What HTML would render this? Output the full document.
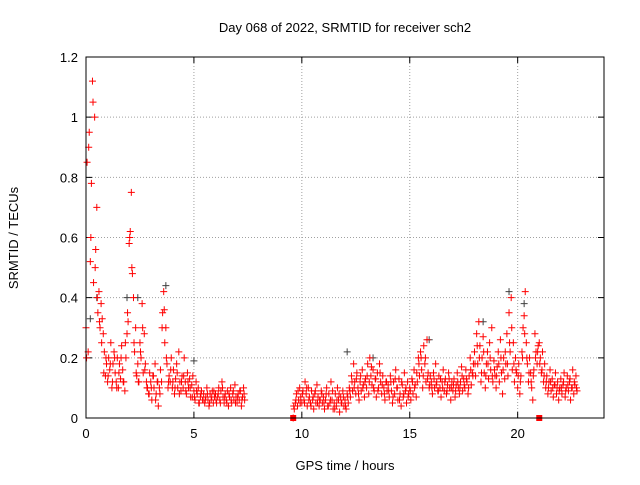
<!DOCTYPE html>
<html><head><meta charset="utf-8">
<style>
body{margin:0;background:#fff;}
svg text{font-family:"Liberation Sans",sans-serif;font-size:13px;fill:#000;}
</style></head>
<body>
<svg id="chart" width="640" height="480">
<text x="345" y="32" text-anchor="middle">Day 068 of 2022, SRMTID for receiver sch2</text>
<text x="345" y="470" text-anchor="middle">GPS time / hours</text>
<text transform="translate(18,238) rotate(-90)" text-anchor="middle">SRMTID / TECUs</text>
<g id="grid"></g><g id="ticks"></g><g id="marks"></g>
<rect x="86" y="57" width="518" height="361" fill="none" stroke="#000" stroke-width="1"/>
</svg>
<script>
const xTicks=[0,5,10,15,20];
const yTicks=[0,0.2,0.4,0.6,0.8,1,1.2];
const yTickLabels=["0","0.2","0.4","0.6","0.8","1","1.2"];
const startA=0, stepA=0.05;
const valsA=[0.30,0.85,0.22,0.95,0.52,0.78,1.12,0.45,1.0,0.56,
0.70,0.35,0.42,0.30,0.38,0.33,0.28,0.22,0.14,0.18,
0.12,0.20,0.16,0.25,0.10,0.18,0.22,0.15,0.12,0.20,
0.10,0.18,0.13,0.24,0.16,0.12,0.09,0.20,0.28,0.32,
0.58,0.62,0.75,0.48,0.40,0.22,0.30,0.14,0.18,0.12,
0.25,0.20,0.38,0.15,0.28,0.18,0.12,0.10,0.08,0.15,
0.12,0.06,0.14,0.10,0.18,0.08,0.12,0.04,0.10,0.16,
0.12,0.35,0.42,0.25,0.30,0.18,0.10,0.14,0.12,0.20,
0.10,0.16,0.08,0.13,0.18,0.10,0.22,0.12,0.09,0.14,
0.10,0.20,0.12,0.08,0.15,0.10,0.13,0.07,0.11,0.14,
0.09,0.06,0.12,0.08,0.10,0.05,0.07,0.09,0.06,0.08,
0.05,0.07,0.10,0.06,0.04,0.08,0.06,0.09,0.05,0.07,
0.08,0.05,0.07,0.10,0.06,0.09,0.12,0.07,0.05,0.08,
0.06,0.09,0.04,0.07,0.10,0.05,0.08,0.06,0.11,0.07,
0.05,0.08,0.06,0.09,0.04,0.07,0.10,0.06];
const startA2=0.025, stepA2=0.1;
const valsA2=[0.2,0.9,0.6,1.05,0.5,0.4,0.32,0.25,0.15,0.2,
0.14,0.18,0.12,0.2,0.1,0.15,0.2,0.12,0.25,0.35,
0.6,0.5,0.25,0.15,0.12,0.22,0.3,0.16,0.1,0.08,
0.1,0.14,0.06,0.12,0.08,0.3,0.36,0.2,0.12,0.16,
0.12,0.1,0.15,0.08,0.12,0.14,0.09,0.12,0.1,0.07,
0.07,0.09,0.05,0.08,0.06,0.06,0.08,0.05,0.07,0.09,
0.06,0.08,0.05,0.1,0.07,0.05,0.08,0.06,0.09,0.05,
0.07,0.09,0.06,0.08];
const startB=9.6, stepB=0.05;
const valsB=[0.0,0.03,0.05,0.08,0.04,0.06,0.10,0.07,
0.05,0.09,0.06,0.12,0.08,0.04,0.10,0.07,0.05,0.09,0.06,0.03,0.08,0.05,0.11,0.07,0.04,0.06,0.09,0.05,
0.07,0.03,0.06,0.10,0.04,0.08,0.05,0.12,0.06,0.03,0.05,0.08,0.04,0.10,0.06,0.02,0.07,0.05,0.09,0.04,
0.06,0.03,0.08,0.05,0.10,0.07,0.14,0.09,0.18,0.12,0.08,0.15,0.10,0.06,0.12,0.09,0.16,0.11,0.07,0.13,
0.10,0.18,0.08,0.20,0.14,0.11,0.16,0.09,0.13,0.07,0.15,0.10,0.18,0.12,0.08,0.14,0.10,0.06,0.12,0.09,
0.11,0.07,0.14,0.09,0.05,0.12,0.08,0.16,0.10,0.06,0.13,0.08,0.04,0.11,0.07,0.15,0.09,0.05,0.12,0.08,
0.10,0.06,0.13,0.08,0.16,0.11,0.07,0.12,0.20,0.14,0.22,0.16,0.10,0.24,0.18,0.12,0.26,0.15,0.10,0.14,
0.12,0.08,0.15,0.10,0.18,0.12,0.09,0.14,0.10,0.07,0.12,0.16,0.09,0.13,0.08,0.11,0.15,0.10,0.06,0.12,
0.09,0.13,0.07,0.11,0.15,0.10,0.08,0.12,0.17,0.09,0.13,0.10,0.16,0.12,0.08,0.14,0.20,0.11,0.15,0.18,
0.22,0.14,0.28,0.18,0.32,0.24,0.12,0.20,0.27,0.15,0.10,0.18,0.22,0.13,0.25,0.16,0.30,0.12,0.19,0.14,
0.10,0.17,0.22,0.12,0.26,0.15,0.08,0.20,0.13,0.18,0.28,0.14,0.35,0.22,0.40,0.16,0.25,0.12,0.20,0.15,
0.10,0.18,0.08,0.14,0.22,0.30,0.34,0.42,0.25,0.18,0.12,0.20,0.15,0.10,0.06,0.16,0.28,0.22,0.18,0.24,
0.25,0.20,0.15,0.22,0.12,0.18,0.10,0.14,0.08,0.12,0.16,0.09,0.13,0.07,0.11,0.15,0.08,0.12,0.06,0.10,
0.13,0.08,0.11,0.15,0.07,0.10,0.14,0.09,0.12,0.06,0.10,0.16,0.08,0.11,0.14,0.09];
const startB2=9.625, stepB2=0.1;
const valsB2=[0.04,0.06,0.09,0.05,
0.08,0.05,0.1,0.06,0.04,0.07,0.09,0.05,0.06,0.08,
0.05,0.08,0.04,0.06,0.09,0.03,0.06,0.08,0.05,0.07,
0.04,0.07,0.09,0.12,0.1,0.13,0.08,0.14,0.1,0.12,
0.14,0.12,0.17,0.1,0.13,0.09,0.15,0.11,0.08,0.12,
0.09,0.12,0.07,0.13,0.1,0.06,0.12,0.08,0.1,0.07,
0.09,0.12,0.1,0.15,0.18,0.2,0.14,0.2,0.13,0.11,
0.1,0.13,0.11,0.09,0.13,0.1,0.12,0.09,0.13,0.1,
0.11,0.09,0.12,0.1,0.14,0.11,0.13,0.1,0.16,0.14,
0.18,0.24,0.2,0.15,0.22,0.14,0.18,0.2,0.14,0.16,
0.14,0.18,0.2,0.16,0.22,0.18,0.25,0.3,0.18,0.16,
0.14,0.12,0.2,0.28,0.2,0.15,0.12,0.14,0.2,0.22,
0.18,0.16,0.14,0.12,0.1,0.12,0.1,0.11,0.1,0.09,
0.1,0.12,0.09,0.11,0.13,0.1,0.12,0.1];
const darkT=[0.2,0.5,1.9,2.4,3.7,5.0,12.1,13.3,15.9,18.4,19.6,20.3];
const darkV=[0.33,0.40,0.40,0.40,0.44,0.19,0.22,0.20,0.26,0.32,0.42,0.38];
const sqT=[9.6,21.0];
const sqV=[0,0];

const NS="http://www.w3.org/2000/svg";
const X0=86,X1=604,Y0=418,Y1=57,XMAX=24,YMAX=1.2;
const xs=t=>X0+t/XMAX*(X1-X0);
const ys=v=>Y0-v/YMAX*(Y0-Y1);
function mk(tag,attrs,parent){const e=document.createElementNS(NS,tag);for(const k in attrs)e.setAttribute(k,attrs[k]);document.getElementById(parent).appendChild(e);return e;}
xTicks.forEach(t=>{
 const g=mk('line',{x1:xs(t),x2:xs(t),y1:Y0,y2:Y1,stroke:'#a0a0a0','stroke-dasharray':'1,2'},'grid');
 
 
 const tk=mk('path',{d:`M${xs(t)},${Y0}v-6M${xs(t)},${Y1}v6`,stroke:'#000'},'ticks');
 
 
 const l=mk('text',{x:xs(t),y:Y0+20,'text-anchor':'middle'},'ticks');l.textContent=String(t);
 
 
});
yTicks.forEach((v,i)=>{
 const g=mk('line',{x1:X0,x2:X1,y1:ys(v),y2:ys(v),stroke:'#a0a0a0','stroke-dasharray':'1,2'},'grid');
 
 
 const tk=mk('path',{d:`M${X0},${ys(v)}h6M${X1},${ys(v)}h-6`,stroke:'#000'},'ticks');
 
 
 const l=mk('text',{x:X0-8,y:ys(v)+5,'text-anchor':'end'},'ticks');l.textContent=yTickLabels[i];
 
 
});
function plus(t,v,col,name){
 const p=mk('path',{d:`M${xs(t)-3.5},${ys(v)}h7M${xs(t)},${ys(v)-3.5}v7`,stroke:col,'stroke-width':1},'marks');
 
 
}
darkT.forEach((t,i)=>plus(t,darkV[i],'#404040','dark-point'));
valsA.forEach((v,i)=>plus(startA+i*stepA,v,'#ff0000','srmtid-point'));
valsA2.forEach((v,i)=>plus(startA2+i*stepA2,v,'#ff0000','srmtid-point'));
valsB.forEach((v,i)=>plus(startB+i*stepB,v,'#ff0000','srmtid-point'));
valsB2.forEach((v,i)=>plus(startB2+i*stepB2,v,'#ff0000','srmtid-point'));
sqT.forEach((t,i)=>{
 const r=mk('rect',{x:xs(t)-3,y:ys(sqV[i])-3,width:6,height:6,fill:'#ff0000'},'marks');
 
 
});
</script>
</body></html>
